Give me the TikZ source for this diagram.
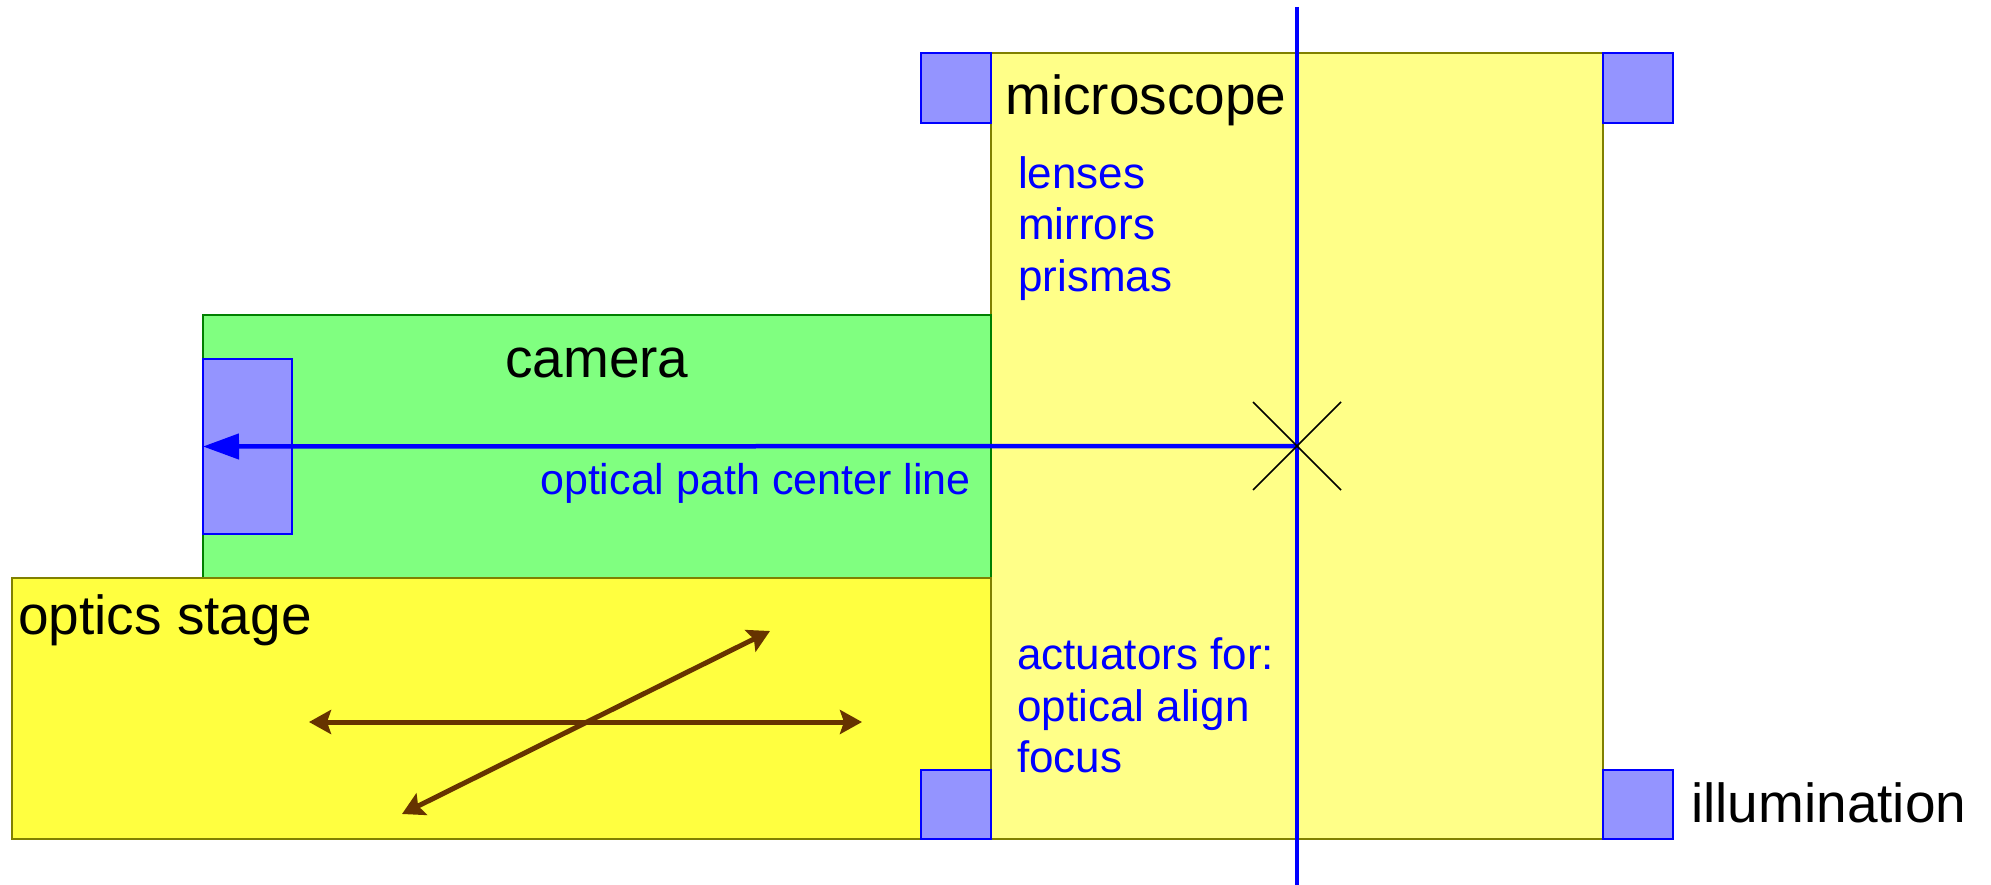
\documentclass[tikz,border=0pt]{standalone}
\usepackage{fontspec}
\setmainfont{Liberation Sans}
\usetikzlibrary{arrows.meta}
\definecolor{micfill}{RGB}{255,255,136}
\definecolor{micdraw}{RGB}{128,128,0}
\definecolor{camfill}{RGB}{128,255,128}
\definecolor{camdraw}{RGB}{0,128,0}
\definecolor{stagefill}{RGB}{255,255,64}
\definecolor{sqfill}{RGB}{148,148,255}
\definecolor{brownarrow}{RGB}{102,51,0}
\begin{document}
\begin{tikzpicture}[x=1pt,y=-1pt,
  box/.style={draw, line width=2pt, inner sep=0pt, outer sep=0pt, anchor=north west},
  sq/.style={box, draw=blue, fill=sqfill},
  big/.style={font=\fontsize{55}{60}\selectfont, inner sep=0pt, anchor=base west},
  small/.style={font=\fontsize{44}{51}\selectfont, text=blue, inner sep=0pt, anchor=base west},
  ray/.style={draw=blue, line width=4.5pt},
  move/.style={draw=brownarrow, line width=5pt, {Stealth[length=22pt,width=24pt,inset=4pt]}-{Stealth[length=22pt,width=24pt,inset=4pt]}},
  crossline/.style={draw=black, line width=1.5pt}]
\useasboundingbox (0,0) rectangle (1991,885);
% boxes
\node[box, draw=micdraw, fill=micfill, minimum width=612pt, minimum height=786pt] (mic) at (991,53) {};
\node[box, draw=camdraw, fill=camfill, minimum width=788pt, minimum height=263pt] (cam) at (203,315) {};
\node[box, draw=micdraw, fill=stagefill, minimum width=979pt, minimum height=261pt] (stage) at (12,578) {};
% small squares
\node[sq, minimum width=70pt, minimum height=70pt] (sqtl) at (921,53) {};
\node[sq, minimum width=70pt, minimum height=70pt] (sqtr) at (1603,53) {};
\node[sq, minimum width=70pt, minimum height=69pt] (sqbl) at (921,770) {};
\node[sq, minimum width=70pt, minimum height=69pt] (sqbr) at (1603,770) {};
\node[sq, minimum width=89pt, minimum height=175pt] (camsq) at (203,359) {};
% texts
\node[big] (tmic) at (1005,115) {microscope};
\node[small] (tlens) at (1018,189) {lenses};
\node[small] (tmirr) at (1018,240) {mirrors};
\node[small] (tprism) at (1018,291) {prismas};
\node[big] (tcam) at (505,377) {camera};
\node[small, font=\fontsize{43}{51}\selectfont] (tpath) at (540,494) {optical path center line};
\node[big] (tstage) at (18,634) {optics stage};
\node[small] (tact) at (1017,669) {actuators for:};
\node[small] (talign) at (1017,721) {optical align};
\node[small] (tfocus) at (1017,772) {focus};
\node[big] (tillum) at (1691,822) {illumination};
% optical axis
\coordinate (vtop) at (1297,7);
\coordinate (vbot) at (1297,885);
\coordinate (xc) at (1297,446);
\draw[ray] (vtop) -- (vbot);
\draw[ray, -{Triangle[length=36pt,width=25pt]}] (xc) -- (camsq.west);
% cross
\coordinate (c1) at (1253,402);
\coordinate (c2) at (1341,490);
\coordinate (c3) at (1253,490);
\coordinate (c4) at (1341,402);
\draw[crossline] (c1) -- (c2);
\draw[crossline] (c3) -- (c4);
% stage motions
\coordinate (hl) at (309,722);
\coordinate (hr) at (862,722);
\coordinate (dl) at (402,814);
\coordinate (dr) at (770,631);
\draw[move] (hl) -- (hr);
\draw[move] (dl) -- (dr);
\end{tikzpicture}
\end{document}
